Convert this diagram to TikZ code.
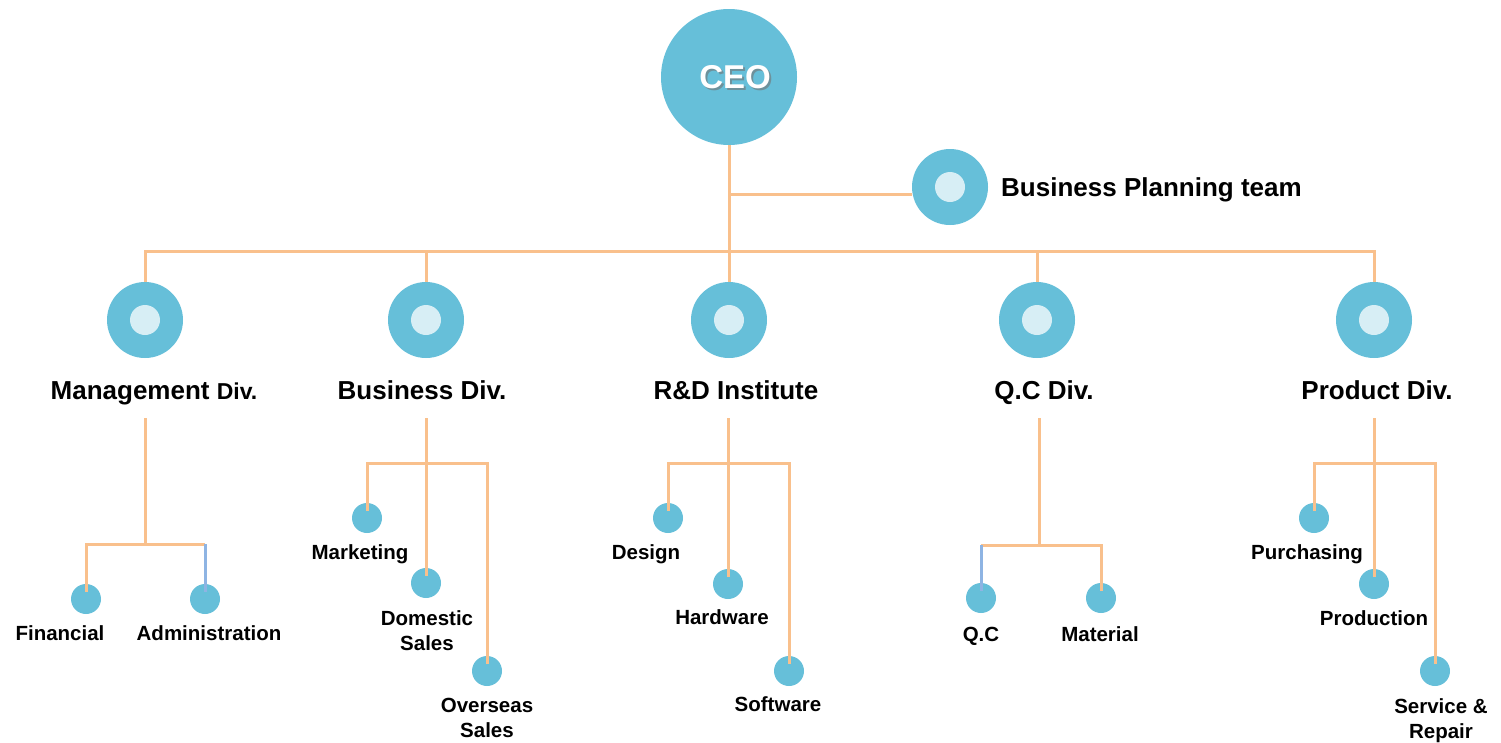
\documentclass[tikz,border=0pt]{standalone}
\usepackage{fontspec}
\setmainfont{Liberation Sans}
\definecolor{dotblue}{HTML}{66BFD9}
\definecolor{dotlight}{HTML}{D7EEF5}
\definecolor{lineor}{HTML}{F9C08C}
\definecolor{lineblue}{HTML}{8EB4E3}
\begin{document}
\begin{tikzpicture}[x=1pt,y=-1pt,
  link/.style={draw=lineor, line width=3pt},
  bluelink/.style={draw=lineblue, line width=3pt},
  bigdot/.style={circle, fill=dotblue, minimum size=76pt, inner sep=0},
  innerdot/.style={circle, fill=dotlight, minimum size=30pt, inner sep=0},
  smalldot/.style={circle, fill=dotblue, minimum size=30pt, inner sep=0},
  divlabel/.style={font=\bfseries\fontsize{26}{30}\selectfont, inner sep=0, anchor=base},
  sublabel/.style={font=\bfseries\fontsize{20.5}{25}\selectfont, inner sep=0, align=center, anchor=base},
]
\useasboundingbox (0,0) rectangle (1501,742);

% CEO
\node[bigdot, minimum size=136pt] (ceo) at (729,77) {};
\node[text=black!55, opacity=0.6, font=\bfseries\fontsize{33}{36}\selectfont] (ceoshadow) at (737,79) {CEO};
\node[text=white, font=\bfseries\fontsize{33}{36}\selectfont] (ceotext) at (735,77) {CEO};

% Business planning
\node[bigdot] (bp) at (950,187) {};
\node[innerdot] (bpi) at (bp) {};
\node[divlabel, anchor=base west] (bpl) at (1001,196) {Business Planning team};

% Divisions
\node[bigdot] (d1) at (145,320) {}; \node[innerdot] (d1i) at (d1) {};
\node[bigdot] (d2) at (426,320) {}; \node[innerdot] (d2i) at (d2) {};
\node[bigdot] (d3) at (729,320) {}; \node[innerdot] (d3i) at (d3) {};
\node[bigdot] (d4) at (1037,320) {}; \node[innerdot] (d4i) at (d4) {};
\node[bigdot] (d5) at (1374,320) {}; \node[innerdot] (d5i) at (d5) {};

\node[divlabel] (l1) at (154,399) {Management {\fontsize{23}{28}\selectfont Div.}};
\node[divlabel] (l2) at (422,399) {Business Div.};
\node[divlabel] (l3) at (736,399) {R\&D Institute};
\node[divlabel] (l4) at (1044,399) {Q.C Div.};
\node[divlabel] (l5) at (1377,399) {Product Div.};

% junction coordinates
\coordinate (bus) at (729,251);
\coordinate (bpj) at (729,194);
\coordinate (m0) at (145,418);
\coordinate (mj) at (145,544);
\coordinate (b0) at (426,418);
\coordinate (bj) at (426,463);
\coordinate (r0) at (728,418);
\coordinate (rj) at (728,463);
\coordinate (q0) at (1039,418);
\coordinate (qj) at (1039,545);
\coordinate (p0) at (1374,418);
\coordinate (pj) at (1374,463);

% top connectors
\draw[link] (ceo.south) -- (d3.north);
\draw[link] (bpj) -- (bpj -| bp.west);
\draw[link] (d1.north) |- (bus) -| (d5.north);
\draw[link] (d2.north) -- (d2.north |- bus);
\draw[link] (d4.north) -- (d4.north |- bus);

% small circles
\node[smalldot] (fin) at (86,599) {};
\node[smalldot] (adm) at (205,599) {};
\node[smalldot] (mkt) at (367,518) {};
\node[smalldot] (dom) at (426,583) {};
\node[smalldot] (ovs) at (487,671) {};
\node[smalldot] (des) at (668,518) {};
\node[smalldot] (hw) at (728,584) {};
\node[smalldot] (sw) at (789,671) {};
\node[smalldot] (qc) at (981,598) {};
\node[smalldot] (mat) at (1101,598) {};
\node[smalldot] (pur) at (1314,518) {};
\node[smalldot] (pro) at (1374,584) {};
\node[smalldot] (svc) at (1435,671) {};

% Management
\draw[link] (m0) -- (mj);
\draw[link] ([yshift=7pt]fin.center) |- (adm |- mj);
\draw[bluelink] (adm |- mj) -- ([yshift=7pt]adm.center);

% Business
\draw[link] (b0) -- ([yshift=7pt]dom.center);
\draw[link] ([yshift=7pt]mkt.center) |- (ovs |- bj) -- ([yshift=7pt]ovs.center);

% R&D
\draw[link] (r0) -- ([yshift=7pt]hw.center);
\draw[link] ([yshift=7pt]des.center) |- (sw |- rj) -- ([yshift=7pt]sw.center);

% QC
\draw[link] (q0) -- (qj);
\draw[link] (qc |- qj) -| ([yshift=7pt]mat.center);
\draw[bluelink] (qc |- qj) -- ([yshift=7pt]qc.center);

% Product
\draw[link] (p0) -- ([yshift=7pt]pro.center);
\draw[link] ([yshift=7pt]pur.center) |- (svc |- pj) -- ([yshift=7pt]svc.center);

% sub labels
\node[sublabel] (tfin) at (60,640) {Financial};
\node[sublabel] (tadm) at (209,640) {Administration};
\node[sublabel] (tmkt) at (360,559) {Marketing};
\node[sublabel] (tdom) at (427,650) {Domestic\\Sales};
\node[sublabel] (tovs) at (487,737) {Overseas\\Sales};
\node[sublabel] (tdes) at (646,559) {Design};
\node[sublabel] (thw) at (722,624) {Hardware};
\node[sublabel] (tsw) at (778,711) {Software};
\node[sublabel] (tqc) at (981,641) {Q.C};
\node[sublabel] (tmat) at (1100,641) {Material};
\node[sublabel] (tpur) at (1307,559) {Purchasing};
\node[sublabel] (tpro) at (1374,625) {Production};
\node[sublabel] (tsvc) at (1441,738) {Service \&\\Repair};
\end{tikzpicture}
\end{document}
